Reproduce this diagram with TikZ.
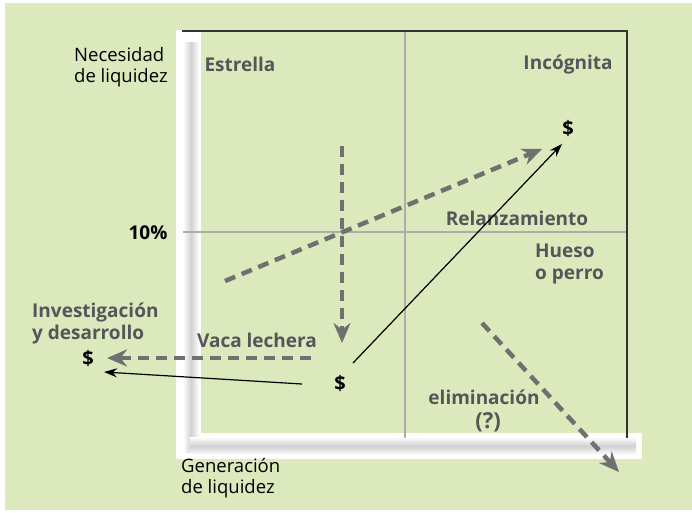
\documentclass[tikz,border=0pt]{standalone}
\usepackage{fontspec}
\setmainfont{Open Sans}
\usetikzlibrary{arrows.meta}
\definecolor{fondo}{RGB}{219,233,188}
\definecolor{textogris}{RGB}{85,85,90}
\definecolor{flechagris}{RGB}{112,112,112}
\definecolor{rejilla}{RGB}{172,172,172}
\begin{document}
\begin{tikzpicture}[x=1pt, y=-1pt]
  \tikzstyle{cuadrante}=[font=\fontsize{19}{22}\selectfont\bfseries, text=textogris, inner sep=0pt]
  \tikzstyle{eje}=[font=\fontsize{18.5}{21}\selectfont, text=black, align=left, inner sep=0pt]
  \tikzstyle{dinero}=[font=\fontsize{20}{22}\selectfont\bfseries, text=black, inner sep=1pt]
  \tikzstyle{flujo}=[flechagris, line width=4.5pt, dash pattern=on 11pt off 7pt,
                     -{Stealth[length=20pt,width=17pt]}]
  \tikzstyle{pago}=[black, line width=1.2pt, -{Stealth[length=13pt,width=9pt]}]

  \useasboundingbox (0,0) rectangle (692,512);
  \fill[fondo] (5,3) rectangle (692,510);

  \fill[white] (176,30) rectangle (201,459);
  \fill[white] (176,433) rectangle (642,459);
  \shade[left color=white, right color=white, middle color=black!18] (183,42) rectangle (199,452);
  \shade[top color=white, bottom color=white, middle color=black!18] (190,437) rectangle (636,455);

  \draw[rejilla, line width=2pt] (405,31) -- (405,438);
  \draw[rejilla, line width=2pt] (183,232) -- (627,232);
  \draw[black!80, line width=1.5pt] (182,31) -- (627,31) -- (627,438);

  \node[eje, anchor=west] (necesidad) at (74,67) {Necesidad\\de liquidez};
  \node[eje, anchor=west] (generacion) at (181,478) {Generación\\de liquidez};

  \node[cuadrante] (estrella) at (240,64) {Estrella};
  \node[cuadrante] (incognita) at (568,64) {Incógnita};
  \node[cuadrante] (relanz) at (517,218) {Relanzamiento};
  \node[cuadrante, align=left, anchor=west] (hueso) at (535,264) {Hueso\\o perro};
  \node[cuadrante, align=left, anchor=west] (inves) at (32,323) {Investigación\\y desarrollo};
  \node[cuadrante] (vaca) at (257,340) {Vaca lechera};
  \node[cuadrante] (elim) at (484,397) {eliminación};
  \node[cuadrante, font=\fontsize{22}{24}\selectfont\bfseries] (duda) at (488,422) {(?)};
  \node[cuadrante, text=black] (diez) at (148,233) {10\%};

  \node[dinero] (dtop) at (568,128) {\$};
  \node[dinero] (dinves) at (88,358) {\$};
  \node[dinero] (dvaca) at (340,383) {\$};

  \coordinate (sube0) at (225,281);   \coordinate (sube1) at (542,149);
  \coordinate (baja0) at (342,146);   \coordinate (baja1) at (342,343);
  \coordinate (izq0) at (311,358);    \coordinate (izq1) at (107,358);
  \coordinate (elim0) at (482,323);   \coordinate (elim1) at (619,472);
  \coordinate (pagoA) at (353,363);   \coordinate (pagoB) at (562,144);
  \coordinate (pagoC) at (302,384);   \coordinate (pagoD) at (104,372);

  \draw[flujo] (sube0) -- (sube1);
  \draw[flujo] (baja0) -- (baja1);
  \draw[flujo] (izq0) -- (izq1);
  \draw[flujo] (elim0) -- (elim1);
  \draw[pago] (pagoA) -- (pagoB);
  \draw[pago] (pagoC) -- (pagoD);
\end{tikzpicture}
\end{document}
